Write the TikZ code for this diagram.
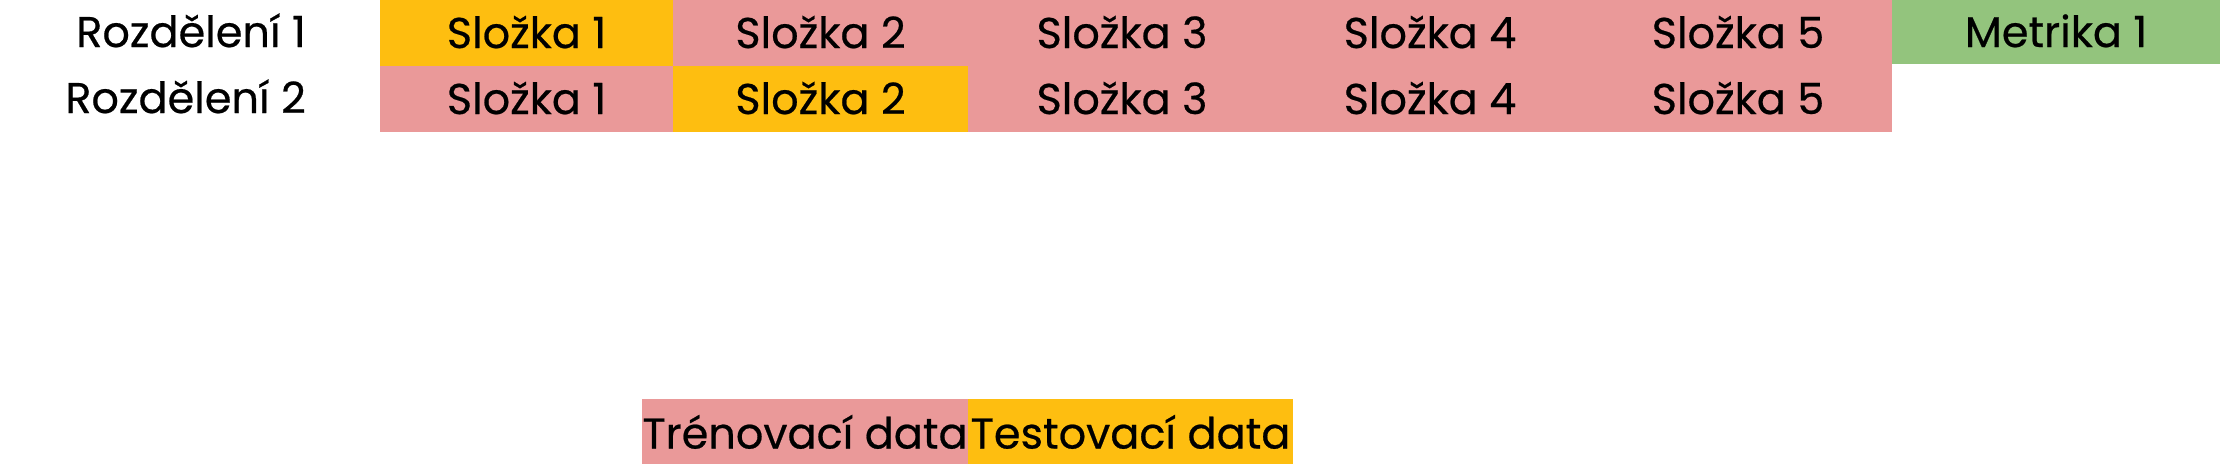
\documentclass[tikz,border=0pt]{standalone}
\usepackage{fontspec}
\setmainfont{Poppins}[FakeBold=0.5]
\definecolor{cyel}{HTML}{FEBE10}
\definecolor{cpink}{HTML}{EA9999}
\definecolor{cgreen}{HTML}{93C47D}
\tikzset{
  cell/.style={rectangle, inner sep=0pt, outer sep=0pt, anchor=north west,
    minimum height=66pt, text height=30pt, text depth=0pt,
    font=\fontsize{43}{50}\selectfont},
  trainc/.style={cell, fill=cpink},
  testc/.style={cell, fill=cyel},
  metc/.style={cell, fill=cgreen},
  rowlab/.style={inner sep=0pt, anchor=east, text height=30pt, text depth=0pt,
    font=\fontsize{43}{50}\selectfont},
}
\begin{document}
\begin{tikzpicture}[x=1pt,y=-1pt]
\useasboundingbox (0,0) rectangle (2220,464);
% row 1
\node[rowlab] (r1) at (306,32) {Rozdělení 1};
\node[testc, minimum width=293pt] (a1) at (380,0) {Složka 1};
\node[trainc, minimum width=295pt] (a2) at (673,0) {Složka 2};
\node[trainc, minimum width=308pt] (a3) at (968,0) {Složka 3};
\node[trainc, minimum width=308pt] (a4) at (1276,0) {Složka 4};
\node[trainc, minimum width=308pt] (a5) at (1584,0) {Složka 5};
\node[metc, minimum width=328pt, minimum height=64pt] (m1) at (1892,0) {Metrika 1};
% row 2
\node[rowlab] (r2) at (306,98) {Rozdělení 2};
\node[trainc, minimum width=293pt] (b1) at (380,66) {Složka 1};
\node[testc, minimum width=295pt] (b2) at (673,66) {Složka 2};
\node[trainc, minimum width=308pt] (b3) at (968,66) {Složka 3};
\node[trainc, minimum width=308pt] (b4) at (1276,66) {Složka 4};
\node[trainc, minimum width=308pt] (b5) at (1584,66) {Složka 5};
% legend
\node[trainc, minimum width=326pt, minimum height=65pt, text height=34pt] (ltr) at (642,399) {Trénovací data};
\node[testc, minimum width=325pt, minimum height=65pt, text height=34pt] (lte) at (968,399) {Testovací data};
\end{tikzpicture}
\end{document}
